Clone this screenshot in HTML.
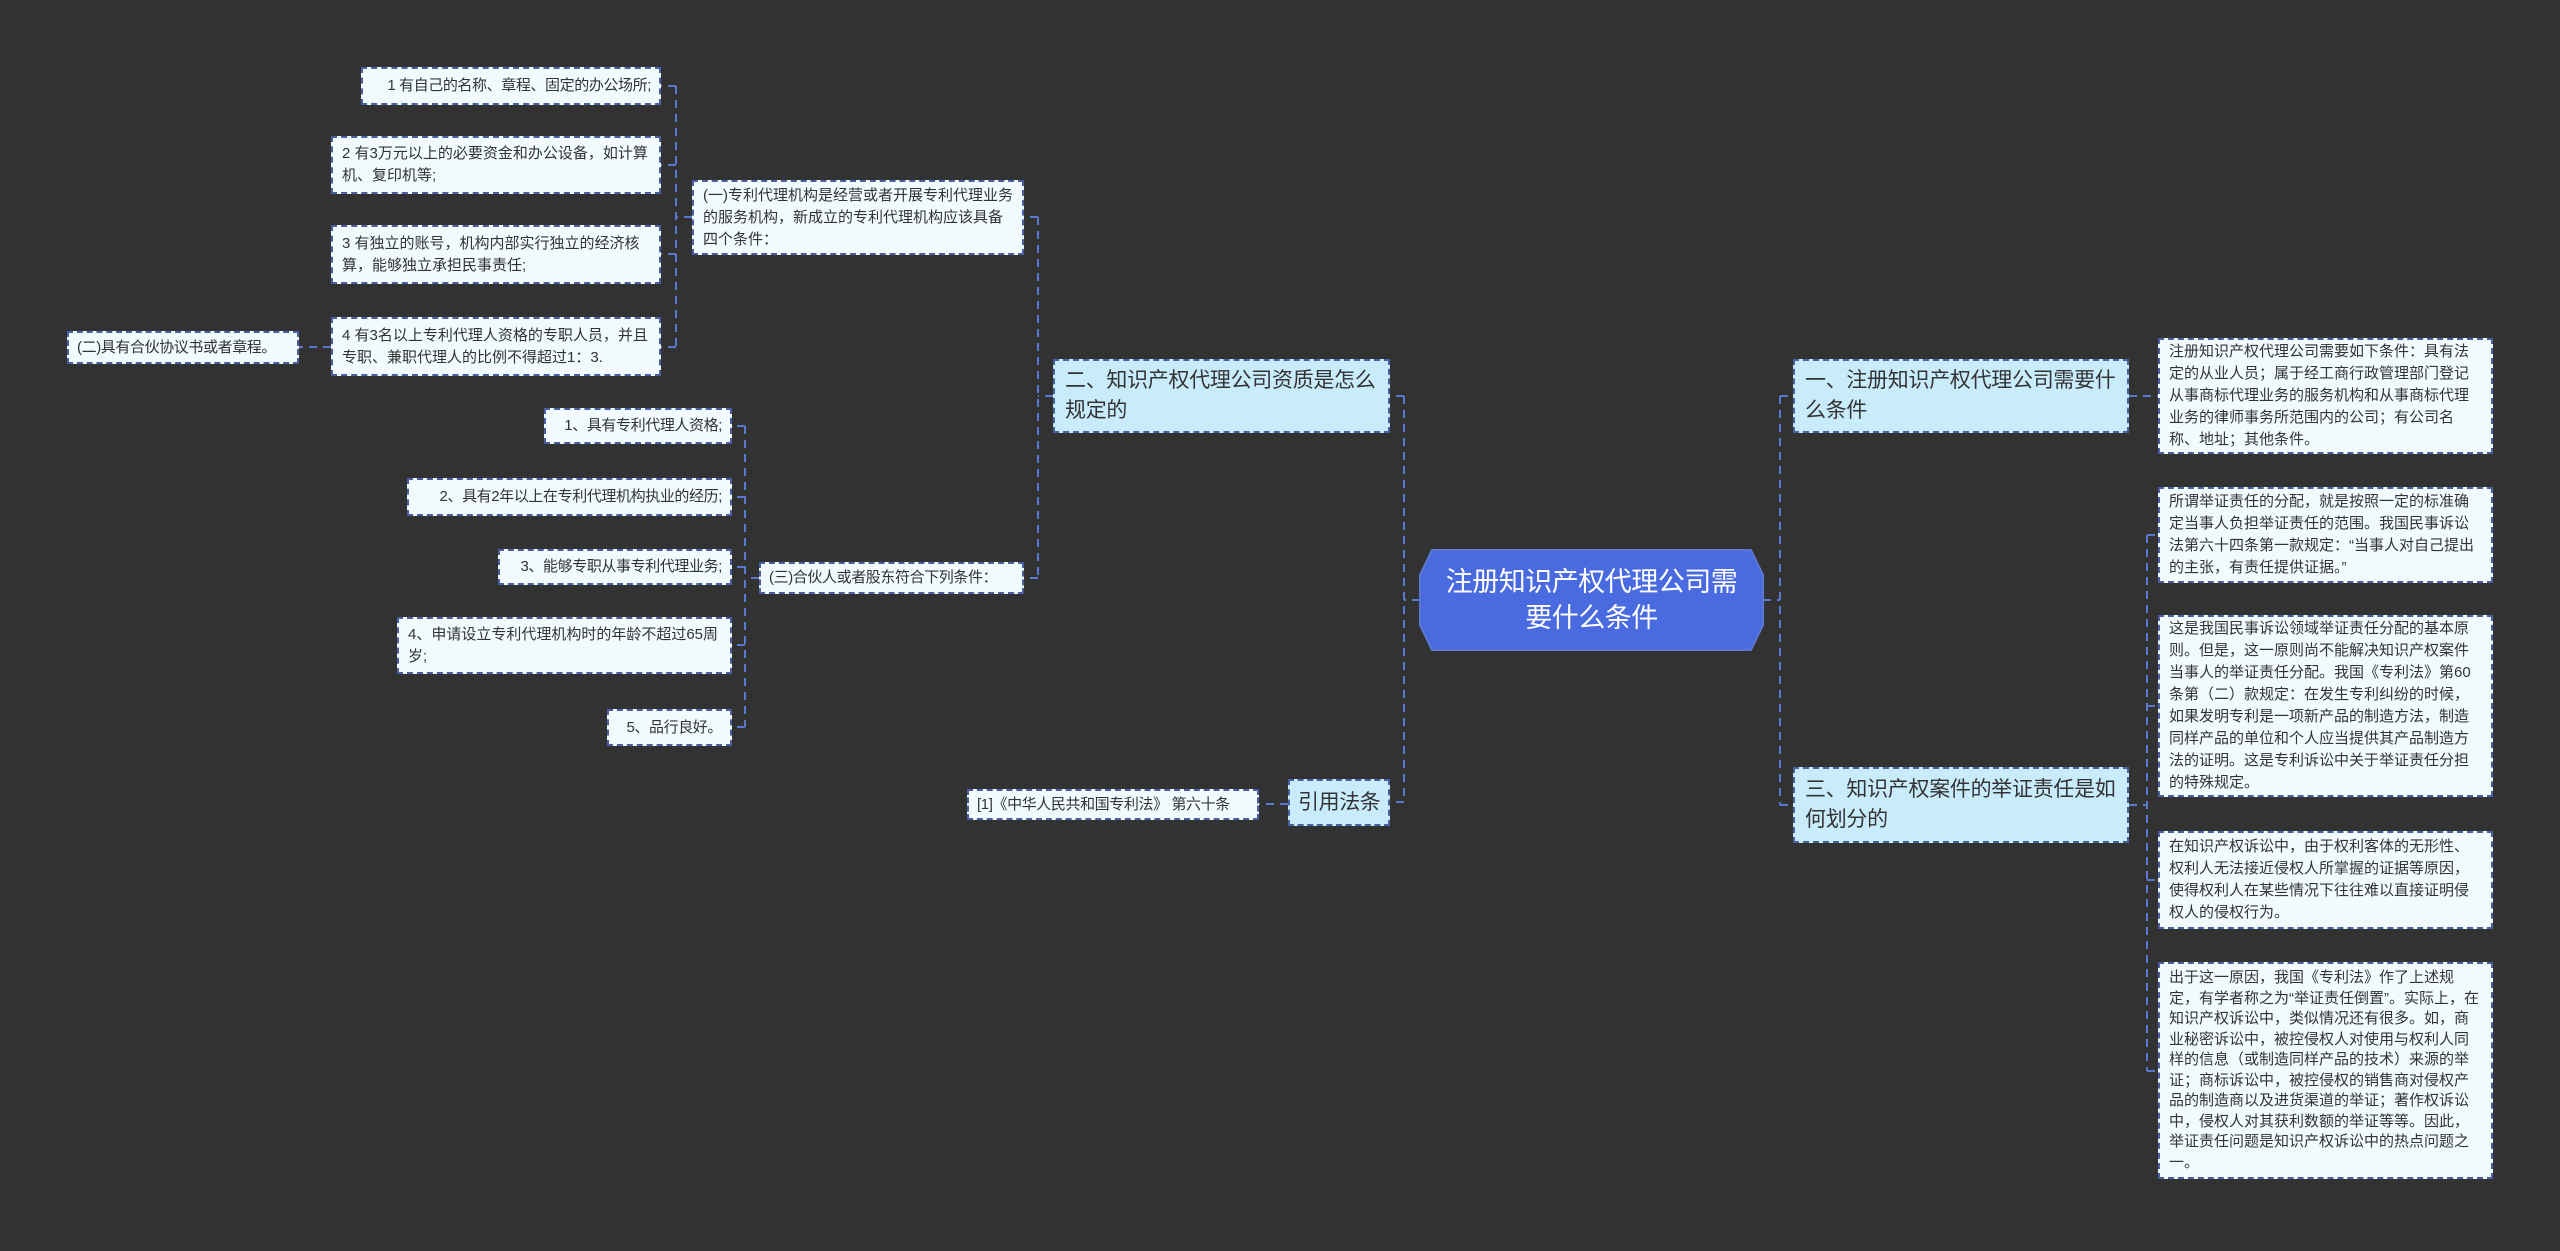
<!DOCTYPE html>
<html><head><meta charset="utf-8"><style>
body{margin:0;width:2560px;height:1251px;background:#333233;overflow:hidden;position:relative;font-family:"Liberation Sans","Noto Sans CJK SC",sans-serif}
.n{position:absolute;box-sizing:border-box;border:2px dashed #4a5fa0;background:#f1fbfe;color:#333;font-size:15px;letter-spacing:0px;line-height:22px;padding:6px 9px;display:flex;align-items:center}
.b{background:#c8ecfc;font-size:21px;letter-spacing:-0.3px;line-height:30px;color:#333;padding:6px 10px}
.s{white-space:nowrap;padding:4px 8px;letter-spacing:-0.4px}
.r{justify-content:flex-end}
svg{position:absolute;left:0;top:0}
</style></head><body>
<svg width="2560" height="1251"><g stroke="#5a78d0" stroke-width="2" stroke-dasharray="8,6" fill="none">
<path d="M1420 600H1404M1404 396V802M1404 396H1390M1404 802H1390"/>
<path d="M1763 600H1780M1780 396V805M1780 396H1793M1780 805H1793"/>
<path d="M2129 396H2158"/>
<path d="M2129 805H2147M2147 535V1071M2147 535H2158M2147 706H2158M2147 880H2158M2147 1071H2158"/>
<path d="M1053 396H1038M1038 217V578M1038 217H1024M1038 578H1024"/>
<path d="M692 217H676M676 86V347M676 86H661M676 165H661M676 254H661M676 347H661M331 347H299"/>
<path d="M759 578H745M745 426V727M745 426H732M745 497H732M745 567H732M745 645H732M745 727H732"/>
<path d="M1288 804H1259"/>
</g>
<polygon points="1432,550 1751,550 1763,575 1763,625 1751,650 1432,650 1420,625 1420,575" fill="#4a6ae0" stroke="#5a78d0" stroke-width="2"/>
</svg>
<div style="position:absolute;left:1420px;top:550px;width:343px;height:100px;display:flex;align-items:center;justify-content:center;text-align:center;color:#fff;font-size:27px;letter-spacing:-0.5px;line-height:36px;padding:0 20px;box-sizing:border-box">注册知识产权代理公司需要什么条件</div>

<div class="n b" style="left:1793px;top:359px;width:336px;height:74px">一、注册知识产权代理公司需要什么条件</div>
<div class="n b" style="left:1793px;top:767px;width:336px;height:76px">三、知识产权案件的举证责任是如何划分的</div>
<div class="n b" style="left:1053px;top:359px;width:337px;height:74px">二、知识产权代理公司资质是怎么规定的</div>
<div class="n b s" style="left:1288px;top:779px;width:102px;height:47px">引用法条</div>

<div class="n" style="left:2158px;top:338px;width:335px;height:116px">注册知识产权代理公司需要如下条件：具有法定的从业人员；属于经工商行政管理部门登记从事商标代理业务的服务机构和从事商标代理业务的律师事务所范围内的公司；有公司名称、地址；其他条件。</div>
<div class="n" style="left:2158px;top:487px;width:335px;height:96px">所谓举证责任的分配，就是按照一定的标准确定当事人负担举证责任的范围。我国民事诉讼法第六十四条第一款规定：“当事人对自己提出的主张，有责任提供证据。”</div>
<div class="n" style="left:2158px;top:615px;width:335px;height:182px">这是我国民事诉讼领域举证责任分配的基本原则。但是，这一原则尚不能解决知识产权案件当事人的举证责任分配。我国《专利法》第60条第（二）款规定：在发生专利纠纷的时候，如果发明专利是一项新产品的制造方法，制造同样产品的单位和个人应当提供其产品制造方法的证明。这是专利诉讼中关于举证责任分担的特殊规定。</div>
<div class="n" style="left:2158px;top:831px;width:335px;height:98px">在知识产权诉讼中，由于权利客体的无形性、权利人无法接近侵权人所掌握的证据等原因，使得权利人在某些情况下往往难以直接证明侵权人的侵权行为。</div>
<div class="n" style="left:2158px;top:962px;width:335px;height:217px;line-height:20.5px;padding:4px 9px">出于这一原因，我国《专利法》作了上述规定，有学者称之为“举证责任倒置”。实际上，在知识产权诉讼中，类似情况还有很多。如，商业秘密诉讼中，被控侵权人对使用与权利人同样的信息（或制造同样产品的技术）来源的举证；商标诉讼中，被控侵权的销售商对侵权产品的制造商以及进货渠道的举证；著作权诉讼中，侵权人对其获利数额的举证等等。因此，举证责任问题是知识产权诉讼中的热点问题之一。</div>

<div class="n" style="left:692px;top:180px;width:332px;height:75px">(一)专利代理机构是经营或者开展专利代理业务的服务机构，新成立的专利代理机构应该具备四个条件：</div>
<div class="n s" style="left:759px;top:562px;width:265px;height:32px">(三)合伙人或者股东符合下列条件：</div>
<div class="n s" style="left:967px;top:789px;width:292px;height:31px">[1]《中华人民共和国专利法》 第六十条</div>

<div class="n r s" style="left:361px;top:67px;width:300px;height:38px">1 有自己的名称、章程、固定的办公场所;</div>
<div class="n" style="left:331px;top:136px;width:330px;height:58px">2 有3万元以上的必要资金和办公设备，如计算机、复印机等;</div>
<div class="n" style="left:331px;top:225px;width:330px;height:59px">3 有独立的账号，机构内部实行独立的经济核算，能够独立承担民事责任;</div>
<div class="n" style="left:331px;top:317px;width:330px;height:59px">4 有3名以上专利代理人资格的专职人员，并且专职、兼职代理人的比例不得超过1：3.</div>
<div class="n s" style="left:67px;top:331px;width:232px;height:33px">(二)具有合伙协议书或者章程。</div>

<div class="n r s" style="left:544px;top:408px;width:188px;height:36px">1、具有专利代理人资格;</div>
<div class="n r s" style="left:407px;top:478px;width:325px;height:38px">2、具有2年以上在专利代理机构执业的经历;</div>
<div class="n r s" style="left:498px;top:549px;width:234px;height:36px">3、能够专职从事专利代理业务;</div>
<div class="n" style="left:397px;top:617px;width:335px;height:57px">4、申请设立专利代理机构时的年龄不超过65周岁;</div>
<div class="n r s" style="left:607px;top:709px;width:125px;height:37px">5、品行良好。</div>
</body></html>
